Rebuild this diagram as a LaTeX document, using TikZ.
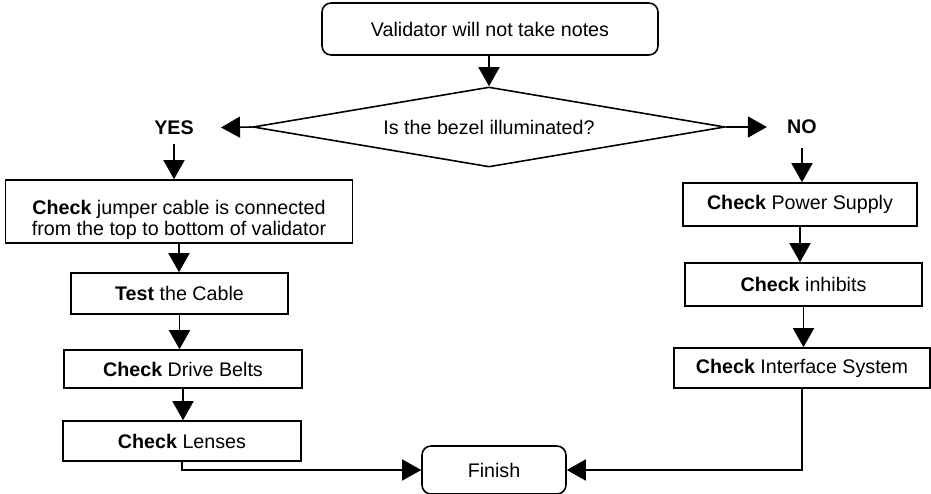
\documentclass[tikz,border=0pt]{standalone}
\usepackage{fontspec}
\setmainfont{Liberation Sans}
\usetikzlibrary{shapes.geometric, arrows.meta}
\tikzset{
	box/.style={draw, line width=0.9pt, inner sep=0, align=center, font=\fontsize{11.2}{11.6}\selectfont},
	term/.style={box, rounded corners=0.18cm},
	ans/.style={inner sep=0, font=\fontsize{11.2}{11.6}\selectfont\bfseries},
	flow/.style={line width=0.9pt, -{Triangle[length=0.38cm, width=0.42cm]}}
}

\begin{document}
\begin{tikzpicture}[x=0.02cm, y=-0.02cm]
	\useasboundingbox (0,0) rectangle (931,494);
	\node[term, minimum width=6.72cm, minimum height=1.04cm] (start) at (490,29) {Validator will not take notes};
	\node[box, diamond, aspect=6, minimum width=9.44cm, minimum height=1.6cm] (bezel) at (489,127) {Is the bezel illuminated?};
	\node[ans, inner xsep=0.54cm, inner ysep=0.18cm] (yes) at (174,127.5) {YES};
	\node[ans, inner xsep=0.4cm, inner ysep=0.28cm] (no) at (802,127) {NO};
%	left side
	\node[box, minimum width=6.94cm, minimum height=1.26cm] (jumper) at (179,211.5) {\rule{0pt}{17.5pt}\textbf{Check} jumper cable is connected\\from the top to bottom of validator};
	\node[box, minimum width=4.34cm, minimum height=0.82cm] (cable) at (179.5,293.5) {\textbf{Test} the Cable};
	\node[box, minimum width=4.76cm, minimum height=0.76cm] (belts) at (183,369) {\textbf{Check} Drive Belts};
	\node[box, minimum width=4.76cm, minimum height=0.8cm] (lenses) at (182,441) {\textbf{Check} Lenses};
%	right side
	\node[box, minimum width=4.68cm, minimum height=0.86cm] (power) at (800,204.5) {\textbf{Check} Power Supply};
	\node[box, minimum width=4.74cm, minimum height=0.86cm] (inhib) at (803.5,284.5) {\textbf{Check} inhibits};
	\node[box, minimum width=5.12cm, minimum height=0.8cm] (iface) at (802,368) {\textbf{Check} Interface System};
	\node[term, minimum width=2.88cm, minimum height=0.96cm] (finish) at (494,470) {Finish};

	\draw[flow] (bezel.north |- start.south) -- (bezel.north);
	\draw[flow] (bezel.west) -- (yes.east);
	\draw[flow] (bezel.east) -- (no.west);
	\draw[flow] (yes.south) -- (yes.south |- jumper.north);
	\draw[flow] (jumper.south) -- (jumper.south |- cable.north);
	\draw[flow] (cable.south) -- (cable.south |- belts.north);
	\draw[flow] (belts.south) -- (belts.south |- lenses.north);
	\draw[flow] (lenses.south) |- (finish.west);
	\draw[flow] (no.south) -- (no.south |- power.north);
	\draw[flow] (power.south) -- (power.south |- inhib.north);
	\draw[flow] (inhib.south) -- (inhib.south |- iface.north);
	\draw[flow] (iface.south) |- (finish.east);
\end{tikzpicture}
\end{document}
